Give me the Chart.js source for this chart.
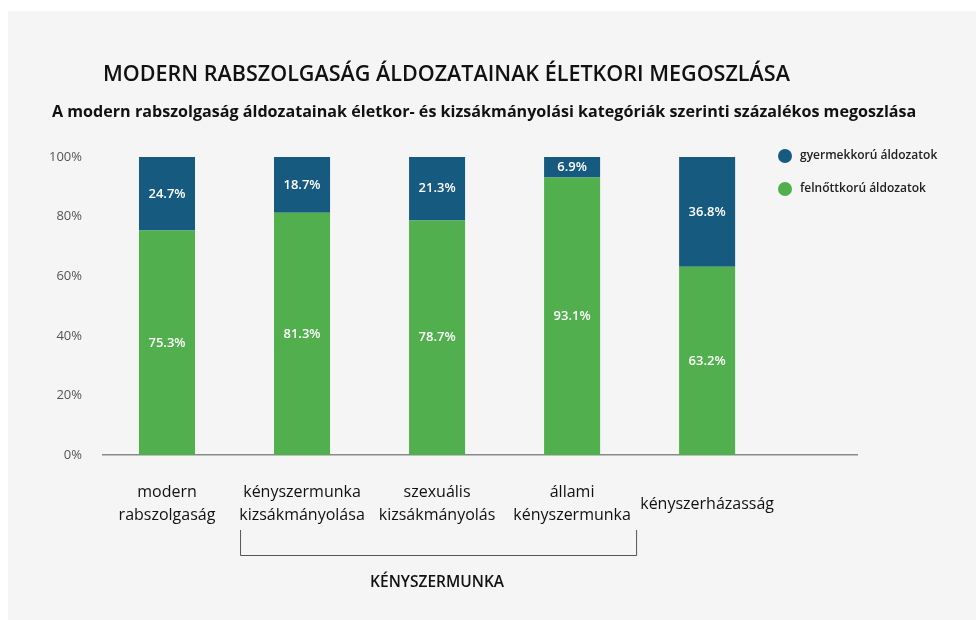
<!DOCTYPE html>
<html lang="hu">
<head>
<meta charset="utf-8">
<title>Modern rabszolgaság áldozatainak életkori megoszlása</title>
<script src="https://cdn.jsdelivr.net/npm/chart.js@4.4.1/dist/chart.umd.min.js"></script>
<style>
    html, body {
        margin: 0;
        padding: 0;
        background: #ffffff;
    }
    #wrap {
        position: absolute;
        left: 8px;
        top: 11px;
        width: 968px;
        height: 609px;
        background: #f5f5f5;
    }
</style>
</head>
<body>
<div id="wrap">
    <canvas id="myChart" width="968" height="609"></canvas>
</div>
<script>
    const title = 'MODERN RABSZOLGASÁG ÁLDOZATAINAK ÉLETKORI MEGOSZLÁSA';
    const subtitle = 'A modern rabszolgaság áldozatainak életkor- és kizsákmányolási kategóriák szerinti százalékos megoszlása';

    // kategóriák (több soros feliratok)
    const categories = [
        ['modern', 'rabszolgaság'],
        ['kényszermunka', 'kizsákmányolása'],
        ['szexuális', 'kizsákmányolás'],
        ['állami', 'kényszermunka'],
        ['kényszerházasság']
    ];
    const groupLabel = 'KÉNYSZERMUNKA';
    const groupFrom = 1;
    const groupTo = 3;

    const seriesNames = ['felnőttkorú áldozatok', 'gyermekkorú áldozatok'];
    const adultValues = [75.3, 81.3, 78.7, 93.1, 63.2];
    const childValues = [24.7, 18.7, 21.3, 6.9, 36.8];

    const yTicks = [0, 20, 40, 60, 80, 100];

    const green = '#51b04d';
    const blue = '#175a80';

    function fitFont(ctx, text, weight, family, target) {
        ctx.font = weight + ' 20px ' + family;
        const w = ctx.measureText(text).width;
        return weight + ' ' + (20 * target / w).toFixed(2) + 'px ' + family;
    }

    const decorPlugin = {
        id: 'decor',
        afterDraw(chart) {
            const ctx = chart.ctx;
            const xs = chart.scales.x;
            ctx.save();

            // címek
            ctx.fillStyle = '#111';
            ctx.textBaseline = 'middle';
            ctx.textAlign = 'left';
            ctx.font = fitFont(ctx, title, '600', '"Open Sans"', 687);
            ctx.fillText(title, 95, 64);
            ctx.font = fitFont(ctx, subtitle, 'bold', '"Open Sans"', 865);
            ctx.fillText(subtitle, 44, 101);

            // értékfeliratok a sávokon
            ctx.fillStyle = '#ffffff';
            ctx.textAlign = 'center';
            ctx.font = '600 13px "Open Sans"';
            chart.data.datasets.forEach((ds, di) => {
                chart.getDatasetMeta(di).data.forEach((bar, i) => {
                    const v = ds.data[i].y;
                    ctx.fillText(v.toFixed(1) + '%', bar.x, (bar.y + bar.base) / 2);
                });
            });

            // kategória feliratok
            ctx.fillStyle = '#111';
            ctx.font = '500 16px "Open Sans"';
            categories.forEach((lines, i) => {
                const x = xs.getPixelForValue(i);
                const mid = 493;
                const lh = 23;
                lines.forEach((ln, k) => {
                    ctx.fillText(ln, x, mid + (k - (lines.length - 1) / 2) * lh);
                });
            });

            // zárójel a kényszermunka csoport alatt
            const left = xs.getPixelForValue(groupFrom) - 62;
            const right = xs.getPixelForValue(groupTo) + 64;
            ctx.strokeStyle = '#555';
            ctx.lineWidth = 1;
            ctx.beginPath();
            ctx.moveTo(left + 0.5, 519);
            ctx.lineTo(left + 0.5, 544.5);
            ctx.lineTo(right + 0.5, 544.5);
            ctx.lineTo(right + 0.5, 519);
            ctx.stroke();
            ctx.fillStyle = '#111';
            ctx.font = '600 15.5px "Open Sans"';
            ctx.fillText(groupLabel, xs.getPixelForValue((groupFrom + groupTo) / 2), 572);

            // jelmagyarázat
            const legend = [
                {label: seriesNames[1], color: blue},
                {label: seriesNames[0], color: green}
            ];
            ctx.textAlign = 'left';
            ctx.font = '600 12px "Open Sans"';
            legend.forEach((item, k) => {
                const y = 145 + k * 33;
                ctx.fillStyle = item.color;
                ctx.beginPath();
                ctx.arc(777, y, 7, 0, Math.PI * 2);
                ctx.fill();
                ctx.fillStyle = '#222';
                ctx.fillText(item.label, 792, y);
            });

            ctx.restore();
        }
    };

    const ctx = document.getElementById('myChart');
    new Chart(ctx, {
        type: 'bar',
        data: {
            datasets: [
                {
                    label: seriesNames[0],
                    data: adultValues.map((v, i) => ({x: i, y: v})),
                    backgroundColor: green,
                    borderWidth: 0,
                    categoryPercentage: 1,
                    barPercentage: 0.415
                },
                {
                    label: seriesNames[1],
                    data: childValues.map((v, i) => ({x: i, y: v})),
                    backgroundColor: blue,
                    borderWidth: 0,
                    categoryPercentage: 1,
                    barPercentage: 0.415
                }
            ]
        },
        options: {
            responsive: false,
            animation: false,
            layout: {
                padding: {left: 0, right: 119, top: 146, bottom: 0}
            },
            plugins: {
                legend: {display: false},
                tooltip: {enabled: false}
            },
            scales: {
                x: {
                    type: 'linear',
                    stacked: true,
                    offset: false,
                    min: -0.474,
                    max: 5.11,
                    afterBuildTicks(scale) {
                        scale.ticks = categories.map((c, i) => ({value: i}));
                    },
                    grid: {display: false},
                    ticks: {display: false},
                    border: {display: true, color: '#8a8a8a', width: 1.5},
                    afterFit(scale) {
                        scale.height = 165;
                    }
                },
                y: {
                    stacked: true,
                    min: yTicks[0],
                    max: yTicks[yTicks.length - 1],
                    afterBuildTicks(scale) {
                        scale.ticks = yTicks.map(v => ({value: v}));
                    },
                    grid: {display: false},
                    border: {display: false},
                    ticks: {
                        padding: 13,
                        color: '#555',
                        font: {family: '"Open Sans"', size: 13},
                        callback: v => v + '%'
                    },
                    afterFit(scale) {
                        scale.width = 95;
                    }
                }
            }
        },
        plugins: [decorPlugin]
    });
</script>
</body>
</html>
